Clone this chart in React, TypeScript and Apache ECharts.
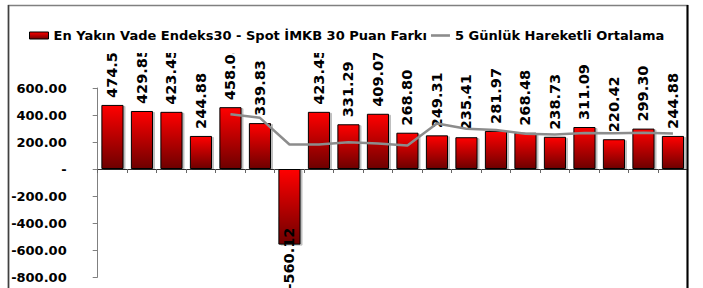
import React, { useEffect, useRef } from "react";
import * as echarts from "echarts";

const categories = ["1", "2", "3", "4", "5", "6", "7", "8", "9", "10", "11", "12", "13", "14", "15", "16", "17", "18", "19", "20"];
const spreadValues = [474.58, 429.85, 423.45, 244.88, 458.05, 339.83, -560.12, 423.45, 331.29, 409.07, 268.8, 249.31, 235.41, 281.97, 268.48, 238.73, 311.09, 220.42, 299.3, 244.88];
const movingAvg: (number | string)[] = ["-", "-", "-", "-", 406.1, 379.2, 181.2, 181.2, 198.5, 188.7, 174.5, 336.4, 298.8, 288.9, 260.8, 254.8, 267.1, 264.1, 267.6, 262.9];
const barName = "En Yakın Vade Endeks30 - Spot İMKB 30 Puan Farkı";
const lineName = "5 Günlük Hareketli Ortalama";

const FONT = "DejaVu Sans";

export default function App() {
  const ref = useRef<HTMLDivElement>(null);
  useEffect(() => {
    document.body.style.margin = "0";
    const chart = echarts.init(ref.current!, null, { renderer: "svg" });
    const grad = new echarts.graphic.LinearGradient(0, 0, 0, 1, [
      { offset: 0, color: "#ff0000" },
      { offset: 1, color: "#6e0000" },
    ]);
    const barData = spreadValues.map((v) =>
      v < 0
        ? {
            value: v,
            label: {
              position: "bottom",
              distance: -17,
              align: "right",
              verticalAlign: "middle",
            },
          }
        : v
    );
    chart.setOption({
      animation: false,
      textStyle: { fontFamily: FONT },
      legend: {
        left: 24,
        top: 24,
        z: 200,
        itemWidth: 19,
        itemHeight: 7,
        itemGap: 4,
        textStyle: { fontFamily: FONT, fontSize: 13, fontWeight: "bold", color: "#000" },
        data: [
          { name: barName, icon: "rect", itemStyle: { color: grad, borderColor: "#000", borderWidth: 1 } },
          {
            name: lineName,
            icon: "path://M0,0H19V2.6H0Z",
            itemStyle: { color: "#8c8c8c", borderWidth: 0 },
          },
        ],
      },
      grid: { left: 97.7, right: 15.3, top: 88, bottom: 11, containLabel: false },
      xAxis: {
        type: "category",
        data: categories,
        axisLine: { onZero: true, lineStyle: { color: "#333", width: 1 } },
        axisTick: { show: true, length: 4, inside: false, lineStyle: { color: "#666" } },
        axisLabel: { show: false },
        splitLine: { show: false },
      },
      yAxis: {
        type: "value",
        min: -800,
        max: 600,
        interval: 200,
        axisLine: { show: true, lineStyle: { color: "#808080", width: 1 } },
        axisTick: { show: true, length: 5, lineStyle: { color: "#808080" } },
        splitLine: { show: false },
        axisLabel: {
          margin: 31,
          fontFamily: FONT,
          fontSize: 13,
          fontWeight: "bold",
          color: "#000",
          formatter: (v: number) => (v === 0 ? "-" : v.toFixed(2)),
        },
      },
      series: [
        {
          name: barName,
          type: "bar",
          data: barData,
          barCategoryGap: "25%",
          itemStyle: {
            color: grad,
            borderColor: "#000",
            borderWidth: 1,
            shadowColor: "rgba(0,0,0,0.25)",
            shadowOffsetX: 2,
            shadowOffsetY: 1,
            shadowBlur: 0,
          },
          label: {
            show: true,
            position: "top",
            distance: 7,
            rotate: 90,
            align: "left",
            verticalAlign: "middle",
            fontFamily: FONT,
            fontSize: 14.5,
            fontWeight: "bold",
            color: "#000",
            formatter: (p: any) => Number(p.value).toFixed(2),
          },
        },
        {
          name: lineName,
          type: "line",
          data: movingAvg,
          showSymbol: false,
          symbol: "none",
          lineStyle: { color: "#8c8c8c", width: 2.5 },
          itemStyle: { color: "#8c8c8c" },
          z: 3,
        },
      ],
      graphic: [
        {
          type: "rect",
          z: 100,
          silent: true,
          shape: { x: 90, y: 12, width: 596, height: 41 },
          style: { fill: "#fff" },
        },
        {
          type: "rect",
          z: 150,
          silent: true,
          shape: { x: 8.5, y: 5.5, width: 679, height: 300 },
          style: { fill: "none", stroke: "#808080", lineWidth: 1.5 },
        },
        {
          type: "line",
          z: 150,
          silent: true,
          shape: { x1: 687.5, y1: 5, x2: 687.5, y2: 300 },
          style: { stroke: "#000", lineWidth: 2 },
        },
        {
          type: "line",
          z: 150,
          silent: true,
          shape: { x1: 8.5, y1: 5, x2: 8.5, y2: 300 },
          style: { stroke: "#404040", lineWidth: 1.5 },
        },
      ],
    });
    return () => chart.dispose();
  }, []);
  return <div ref={ref} style={{ width: 703, height: 288 }} />;
}
